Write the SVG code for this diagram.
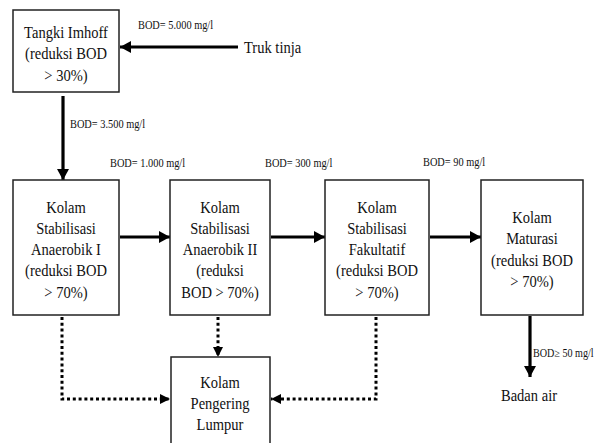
<svg xmlns="http://www.w3.org/2000/svg" width="602" height="443" viewBox="0 0 602 443">
<defs>
<style>
.box{fill:#fff;stroke:#222;stroke-width:1.5}
.t{font-family:"Liberation Serif","Times New Roman",serif;font-size:17.5px;fill:#111;text-anchor:middle}
.s{font-family:"Liberation Serif","Times New Roman",serif;font-size:11.5px;fill:#111}
.a{fill:none;stroke:#000;stroke-width:3.2}
.d{fill:none;stroke:#000;stroke-width:3;stroke-dasharray:3 2.8}
</style>
<marker id="ah" markerUnits="userSpaceOnUse" markerWidth="14" markerHeight="14" refX="11" refY="6" orient="auto">
<path d="M0,0 L11,6 L0,12 Z" fill="#000"/>
</marker>
<marker id="dh" markerUnits="userSpaceOnUse" markerWidth="12" markerHeight="12" refX="10" refY="5" orient="auto">
<path d="M0,0 L10,5 L0,10 Z" fill="#000"/>
</marker>
</defs>
<rect width="602" height="443" fill="#fff"/>

<g id="connectors">
<line class="a" x1="238" y1="47" x2="120" y2="47" marker-end="url(#ah)"/>
<line class="a" x1="63" y1="96" x2="63" y2="180" marker-end="url(#ah)"/>
<line class="a" x1="120" y1="237" x2="170" y2="237" marker-end="url(#ah)"/>
<line class="a" x1="271" y1="237" x2="325" y2="237" marker-end="url(#ah)"/>
<line class="a" x1="430" y1="237" x2="481" y2="237" marker-end="url(#ah)"/>
<line class="a" x1="530" y1="316" x2="530" y2="377" marker-end="url(#ah)"/>
<polyline class="d" points="62,317 62,399 170,399" marker-end="url(#dh)"/>
<line class="d" x1="218" y1="317" x2="218" y2="357" marker-end="url(#dh)"/>
<polyline class="d" points="376,317 376,399 271,399" marker-end="url(#dh)"/>
</g>

<g id="label-bod5000"><text class="s" transform="translate(138,29) scale(0.9,1)">BOD= 5.000 mg/l</text></g>
<g id="label-bod3500"><text class="s" transform="translate(70,128) scale(0.9,1)">BOD= 3.500 mg/l</text></g>
<g id="label-bod1000"><text class="s" transform="translate(110,167) scale(0.9,1)">BOD= 1.000 mg/l</text></g>
<g id="label-bod300"><text class="s" transform="translate(265,167) scale(0.9,1)">BOD= 300 mg/l</text></g>
<g id="label-bod90"><text class="s" transform="translate(423,166) scale(0.9,1)">BOD= 90 mg/l</text></g>
<g id="label-bod50"><text class="s" transform="translate(533,357) scale(0.88,1)">BOD≥ 50 mg/l</text></g>

<g id="truk-tinja"><text class="t" style="text-anchor:start" transform="translate(244,53) scale(0.83,1)">Truk tinja</text></g>
<g id="badan-air"><text class="t" transform="translate(529,401) scale(0.83,1)">Badan air</text></g>

<g id="tangki-imhoff">
<rect class="box" x="13" y="10" width="106" height="82"/>
<text class="t" transform="translate(66,38) scale(0.83,1)"><tspan x="0">Tangki Imhoff</tspan><tspan x="0" dy="21.5">(reduksi BOD</tspan><tspan x="0" dy="21.5">&gt; 30%)</tspan></text>
</g>

<g id="kolam-anaerobik-1">
<rect class="box" x="13" y="180" width="106" height="135"/>
<text class="t" transform="translate(66,212.5) scale(0.83,1)"><tspan x="0">Kolam</tspan><tspan x="0" dy="21.3">Stabilisasi</tspan><tspan x="0" dy="21.3">Anaerobik I</tspan><tspan x="0" dy="21.3">(reduksi BOD</tspan><tspan x="0" dy="21.3">&gt; 70%)</tspan></text>
</g>

<g id="kolam-anaerobik-2">
<rect class="box" x="170" y="180" width="100" height="135"/>
<text class="t" transform="translate(220,212.5) scale(0.83,1)"><tspan x="0">Kolam</tspan><tspan x="0" dy="21.3">Stabilisasi</tspan><tspan x="0" dy="21.3">Anaerobik II</tspan><tspan x="0" dy="21.3">(reduksi</tspan><tspan x="0" dy="21.3">BOD &gt; 70%)</tspan></text>
</g>

<g id="kolam-fakultatif">
<rect class="box" x="325" y="180" width="104" height="135"/>
<text class="t" transform="translate(377,212.5) scale(0.83,1)"><tspan x="0">Kolam</tspan><tspan x="0" dy="21.3">Stabilisasi</tspan><tspan x="0" dy="21.3">Fakultatif</tspan><tspan x="0" dy="21.3">(reduksi BOD</tspan><tspan x="0" dy="21.3">&gt; 70%)</tspan></text>
</g>

<g id="kolam-maturasi">
<rect class="box" x="481" y="180" width="102" height="135"/>
<text class="t" transform="translate(532,223) scale(0.83,1)"><tspan x="0">Kolam</tspan><tspan x="0" dy="21.3">Maturasi</tspan><tspan x="0" dy="21.3">(reduksi BOD</tspan><tspan x="0" dy="21.3">&gt; 70%)</tspan></text>
</g>

<g id="kolam-pengering-lumpur">
<rect class="box" x="171" y="357" width="99" height="95"/>
<text class="t" transform="translate(220,387.5) scale(0.83,1)"><tspan x="0">Kolam</tspan><tspan x="0" dy="21.5">Pengering</tspan><tspan x="0" dy="21.5">Lumpur</tspan></text>
</g>
</svg>
